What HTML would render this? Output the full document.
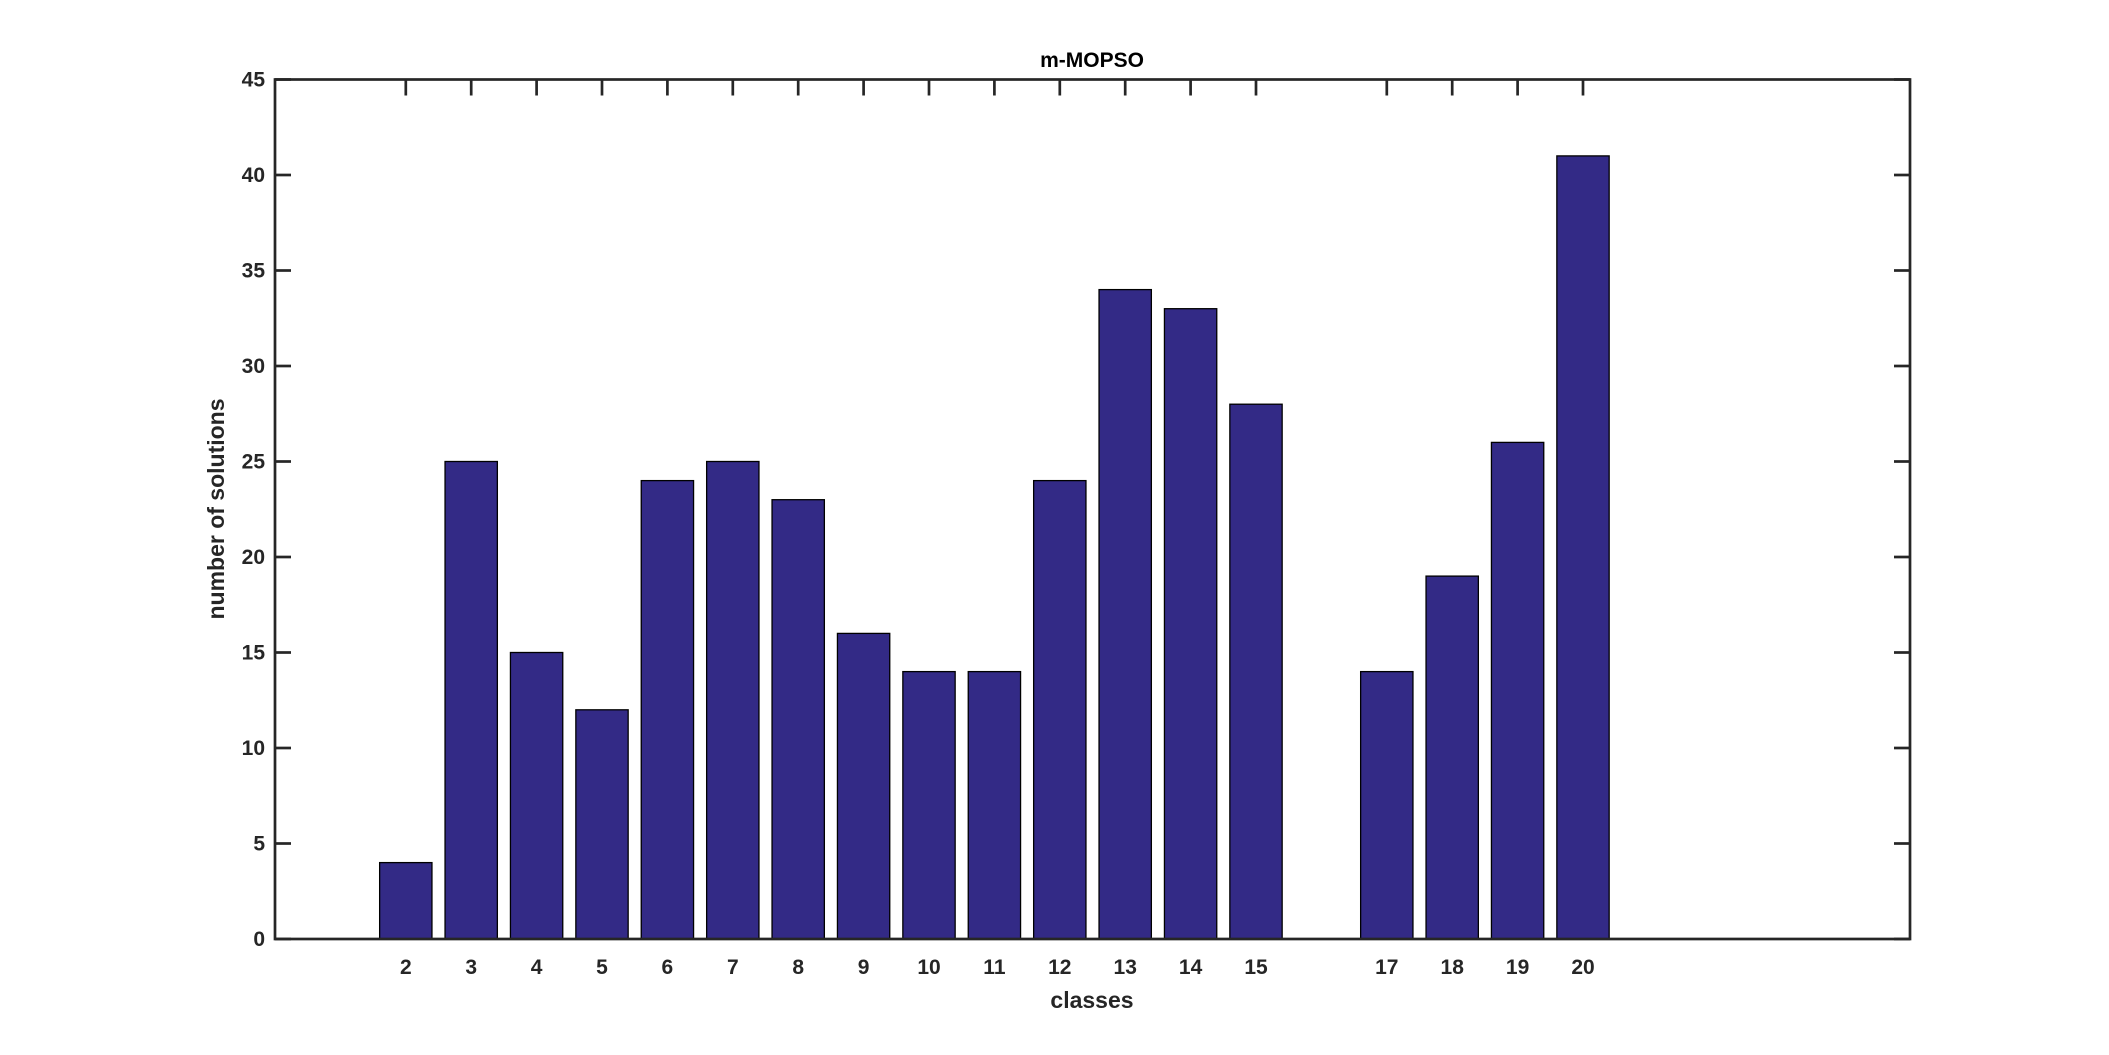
<!DOCTYPE html>
<html><head><meta charset="utf-8"><style>
html,body{margin:0;padding:0;background:#fff;}
svg{display:block;font-family:"Liberation Sans",Arial,sans-serif;font-weight:bold;}
</style></head><body>
<svg id="chart" width="2109" height="1055" viewBox="0 0 2109 1055">
<rect width="2109" height="1055" fill="#fff"/>
<g id="under"></g>
<g id="bars"></g>
<g id="axes"></g>
<text x="1092" y="67" font-size="21" text-anchor="middle" fill="#000">m-MOPSO</text>
<text x="1092" y="1008" font-size="23" text-anchor="middle" fill="#262626">classes</text>
<text transform="translate(224,509) rotate(-90)" font-size="23" text-anchor="middle" fill="#262626">number of solutions</text>
</svg>
<script>
const categories = [2,3,4,5,6,7,8,9,10,11,12,13,14,15,17,18,19,20];
const values = [4,25,15,12,24,25,23,16,14,14,24,34,33,28,14,19,26,41];
const yTicks = [0,5,10,15,20,25,30,35,40,45];
const xTicks = [2,3,4,5,6,7,8,9,10,11,12,13,14,15,17,18,19,20];

const L=275, R=1910, T=79.5, B=939;
const xMin=0, xMax=25, yMin=0, yMax=45;
const xs = v => L + (v-xMin)/(xMax-xMin)*(R-L);
const ys = v => B - (v-yMin)/(yMax-yMin)*(B-T);
const NS='http://www.w3.org/2000/svg';
const bars=document.getElementById('bars'), axes=document.getElementById('axes'), under=document.getElementById('under');
function mk(tag, attrs, parent){const e=document.createElementNS(NS,tag);for(const k in attrs)e.setAttribute(k,attrs[k]);parent.appendChild(e);return e;}
const bw = 0.8*(R-L)/(xMax-xMin);
categories.forEach((c,i)=>{
  const r=mk('rect',{x:xs(c)-bw/2,y:ys(values[i]),width:bw,height:ys(0)-ys(values[i]),fill:'#332a86',stroke:'#000','stroke-width':1.3},bars);
  
  
});
const box=mk('rect',{x:L,y:T,width:R-L,height:B-T,fill:'none',stroke:'#262626','stroke-width':2.7},axes);


yTicks.forEach(t=>{
  const y=ys(t);
  mk('line',{x1:L,x2:L+16,y1:y,y2:y,stroke:'#262626','stroke-width':2.7},axes);
  mk('line',{x1:R,x2:R-16,y1:y,y2:y,stroke:'#262626','stroke-width':2.7},axes);
  const tx=mk('text',{x:L-10,y:y+7,'font-size':21,'text-anchor':'end',fill:'#262626'},axes);
  tx.textContent=t;
  
  
});
xTicks.forEach(t=>{
  const x=xs(t);
  mk('line',{x1:x,x2:x,y1:T,y2:T+16,stroke:'#262626','stroke-width':2.7},axes);
  mk('line',{x1:x,x2:x,y1:B,y2:B-16,stroke:'#262626','stroke-width':2.7},under);
  const tx=mk('text',{x:x,y:B+35,'font-size':21,'text-anchor':'middle',fill:'#262626'},axes);
  tx.textContent=t;
  
  
});
</script>
</body></html>
